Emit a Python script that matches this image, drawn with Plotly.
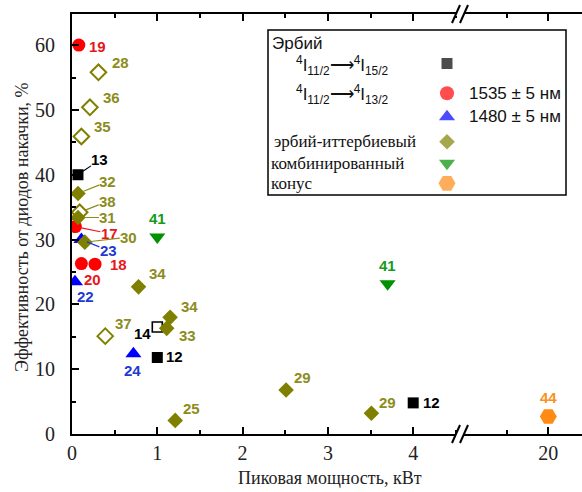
import plotly.graph_objects as go

# ---------------- data ----------------
# Erbium 4I11/2 -> 4I15/2 (filled squares)
er15_x = [0.07, 1.0, 4.0]
er15_y = [40.0, 11.8, 4.8]
er15_ref = ["13", "12", "12"]
# Erbium 4I11/2 -> 4I15/2 (open square)
er15o_x = [1.0]
er15o_y = [16.5]
er15o_ref = ["14"]
# Erbium 4I11/2 -> 4I13/2, 1535 nm (circles)
c1535_x = [0.08, 0.04, 0.11, 0.27]
c1535_y = [60.0, 32.0, 26.3, 26.2]
c1535_ref = ["19", "17", "20", "18"]
# Erbium 4I11/2 -> 4I13/2, 1480 nm (triangles)
t1480_x = [0.11, 0.035, 0.72]
t1480_y = [30.0, 23.5, 12.4]
t1480_ref = ["23", "22", "24"]
# Erbium-ytterbium (filled diamonds)
eryb_x = [0.07, 0.07, 0.15, 0.78, 1.15, 1.11, 1.21, 2.51, 3.51]
eryb_y = [37.1, 33.4, 29.6, 22.7, 18.0, 16.3, 2.1, 6.8, 3.2]
eryb_ref = ["32", "31", "30", "34", "34", "33", "25", "29", "29"]
# Erbium-ytterbium (open diamonds)
erybo_x = [0.31, 0.21, 0.11, 0.09, 0.39]
erybo_y = [55.8, 50.4, 45.9, 34.2, 15.1]
erybo_ref = ["28", "36", "35", "38", "37"]
# Combined (triangles down)
comb_x = [1.0, 3.7]
comb_y = [30.4, 23.2]
comb_ref = ["41", "41"]
# Cone (hexagon), after the axis break
cone_x = [20]
cone_y = [2.7]
cone_ref = ["44"]

x1_ticks = [0, 1, 2, 3, 4]
x1_minor = [0.5, 1.5, 2.5, 3.5, 4.5]
x2_ticks = [20]
x2_minor = [19.5]
y_ticks = [0, 10, 20, 30, 40, 50, 60]
y_minor = [5, 15, 25, 35, 45, 55]

# ---------------- layout geometry ----------------
W, H = 582, 492
ML, MR, MT, MB = 72, 0, 14, 58
PW = W - ML - MR
PH = H - MT - MB


def pxp(xp):
    return (xp - ML) / PW


def pyp(yp):
    return (H - MB - yp) / PH


BREAK = 460
dsplit = pxp(BREAK)
XS1 = 85.3
XS2 = 83.3
x1max = (BREAK - ML) / XS1
x2min = 20 - (548.3 - BREAK) / XS2
x2max = 20 + (W - 548.3) / XS2
YMAX = 64.8

SANS = "Liberation Sans, Arial, sans-serif"
SERIF = "Liberation Serif, Times New Roman, serif"

RED, RED_L = "#ff0000", "#e8161c"
BLUE, BLUE_L = "#0000ff", "#1f3ad0"
OLIVE, OLIVE_L = "#808000", "#8c8c1c"
GREEN, GREEN_L = "#009000", "#17991a"
ORANGE, ORANGE_L = "#ff8a14", "#f7921e"

# label offsets in pixels (dx, dy screen-down, leader line?)
series = [
    dict(x=er15_x, y=er15_y, refs=er15_ref, xa="x", sym="square", size=11,
         color="black", lab="black", lw=0,
         offs=[(22, -15, True), (17, -1, False), (18, 0, False)]),
    dict(x=er15o_x, y=er15o_y, refs=er15o_ref, xa="x", sym="square-open", size=10,
         color="black", lab="black", lw=1.6,
         offs=[(-15, 6, False)]),
    dict(x=c1535_x, y=c1535_y, refs=c1535_ref, xa="x", sym="circle", size=13,
         color=RED, lab=RED_L, lw=0,
         offs=[(19, 1, False), (34, 7, True), (11, 16, False), (23, 0, False)]),
    dict(x=t1480_x, y=t1480_y, refs=t1480_ref, xa="x", sym="triangle-up", size=14,
         color=BLUE, lab=BLUE_L, lw=0,
         offs=[(27, 11, True), (11, 15, False), (-1, 17, False)]),
    dict(x=eryb_x, y=eryb_y, refs=eryb_ref, xa="x", sym="diamond", size=12,
         color=OLIVE, lab=OLIVE_L, lw=0,
         offs=[(30, -12, True), (30, 0, True), (44, -5, True), (19, -13, False),
               (19, -11, False), (21, 7, False), (16, -12, False), (16, -12, False),
               (16, -11, False)]),
    dict(x=erybo_x, y=erybo_y, refs=erybo_ref, xa="x", sym="diamond-open", size=12,
         color=OLIVE, lab=OLIVE_L, lw=2,
         offs=[(22, -10, False), (22, -10, False), (21, -10, False), (28, -11, True),
               (18, -13, False)]),
    dict(x=comb_x, y=comb_y, refs=comb_ref, xa="x", sym="triangle-down", size=14,
         color=GREEN, lab=GREEN_L, lw=0,
         offs=[(0, -18, False), (0, -18, False)]),
    dict(x=cone_x, y=cone_y, refs=cone_ref, xa="x2", sym="hexagon2", size=17,
         color=ORANGE, lab=ORANGE_L, lw=0,
         offs=[(0, -19, False)]),
]

fig = go.Figure()
annotations = []
for s in series:
    marker = dict(symbol=s["sym"], size=s["size"], color=s["color"])
    if s["lw"]:
        marker["line"] = dict(width=s["lw"], color=s["color"])
    else:
        marker["line"] = dict(width=0)
    fig.add_trace(go.Scatter(x=s["x"], y=s["y"], mode="markers", marker=marker,
                             xaxis=s["xa"], yaxis="y", showlegend=False,
                             hoverinfo="skip"))
    for xi, yi, r, (dx, dy, lead) in zip(s["x"], s["y"], s["refs"], s["offs"]):
        a = dict(x=xi, y=yi, xref=s["xa"], yref="y", text="<b>" + r + "</b>",
                 font=dict(family=SANS, size=15, color=s["lab"]))
        if lead:
            a.update(showarrow=True, arrowhead=0, arrowwidth=1.2,
                     arrowcolor=s["lab"], ax=dx, ay=dy, standoff=6, borderpad=0)
        else:
            a.update(showarrow=False, xshift=dx, yshift=-dy,
                     xanchor="center", yanchor="middle")
        annotations.append(a)

# ---------------- custom legend ----------------
leg_sym = ["square", "circle", "triangle-up", "diamond", "triangle-down", "hexagon2"]
leg_col = ["black", RED, BLUE, OLIVE, GREEN, ORANGE]
leg_size = [11, 14, 14, 12, 14, 17]
leg_py = [63.5, 93.3, 116.7, 141.7, 163.3, 183.3]
fig.add_trace(go.Scatter(
    x=[pxp(447)] * len(leg_sym), y=[pyp(v) for v in leg_py], mode="markers",
    marker=dict(symbol=leg_sym, color=leg_col, size=leg_size, line=dict(width=0)),
    xaxis="x3", yaxis="y3", showlegend=False, hoverinfo="skip", cliponaxis=False))

leg_texts = [
    ("Эрбий", 270, 43.5, SANS, 17),
    ("<sup>4</sup>I<sub>11/2</sub>⟶<sup>4</sup>I<sub>15/2</sub>", 294, 65, SANS, 17),
    ("<sup>4</sup>I<sub>11/2</sub>⟶<sup>4</sup>I<sub>13/2</sub>", 294, 94, SANS, 17),
    ("1535 ± 5 нм", 467, 93.3, SANS, 17),
    ("1480 ± 5 нм", 467, 116.7, SANS, 17),
    ("эрбий-иттербиевый", 272, 141.7, SERIF, 17),
    ("комбинированный", 269, 163.3, SERIF, 17),
    ("конус", 269, 183.3, SERIF, 17),
]
for t, xp, yp, fam, fs in leg_texts:
    annotations.append(dict(x=pxp(xp), y=pyp(yp), xref="paper", yref="paper",
                            text=t, showarrow=False, xanchor="left", yanchor="middle",
                            font=dict(family=fam, size=fs, color="#111")))

# axis titles
annotations.append(dict(x=pxp(330), y=pyp(478), xref="paper", yref="paper",
                        text="Пиковая мощность, кВт", showarrow=False,
                        xanchor="center", yanchor="middle",
                        font=dict(family=SERIF, size=18, color="#222")))
annotations.append(dict(x=pxp(22), y=pyp(227), xref="paper", yref="paper",
                        text="Эффективность от диодов накачки, %", showarrow=False,
                        textangle=-90, xanchor="center", yanchor="middle",
                        font=dict(family=SERIF, size=18, color="#222")))

shapes = [
    dict(type="rect", xref="paper", yref="paper", x0=pxp(268), x1=pxp(566),
         y0=pyp(195), y1=pyp(30), line=dict(color="black", width=1.5),
         fillcolor="rgba(0,0,0,0)", layer="above"),
]
# axis break marks (bottom and top)
for yb in (434, 14):
    shapes.append(dict(type="line", xref="paper", yref="paper",
                       x0=pxp(BREAK - 4), x1=pxp(BREAK + 4), y0=pyp(yb), y1=pyp(yb),
                       line=dict(color="white", width=4), layer="above"))
    for c in (BREAK - 4, BREAK + 4):
        shapes.append(dict(type="line", xref="paper", yref="paper",
                           x0=pxp(c - 4), x1=pxp(c + 4), y0=pyp(yb + 9), y1=pyp(yb - 9),
                           line=dict(color="black", width=2), layer="above"))

axis_common = dict(showline=True, linewidth=2, linecolor="black", ticks="inside",
                   ticklen=7, tickwidth=2, tickcolor="black", showgrid=False,
                   zeroline=False,
                   tickfont=dict(family=SERIF, size=20, color="#222"))

fig.update_layout(
    width=W, height=H,
    margin=dict(l=ML, r=MR, t=MT, b=MB),
    paper_bgcolor="white", plot_bgcolor="rgba(0,0,0,0)",
    xaxis=dict(domain=[0, dsplit], range=[0, x1max], tickvals=x1_ticks,
               minor=dict(tickvals=x1_minor, ticks="inside", ticklen=4,
                          tickwidth=2, tickcolor="black"),
               anchor="y", ticklabelstandoff=0, mirror="ticks", **axis_common),
    xaxis2=dict(domain=[dsplit, 1], range=[x2min, x2max], tickvals=x2_ticks,
                minor=dict(tickvals=x2_minor, ticks="inside", ticklen=4,
                           tickwidth=2, tickcolor="black"),
                anchor="y", ticklabelstandoff=0, mirror="ticks", **axis_common),
    yaxis=dict(domain=[0, 1], range=[0, YMAX], tickvals=y_ticks,
               minor=dict(tickvals=y_minor, ticks="inside", ticklen=4,
                          tickwidth=2, tickcolor="black"),
               anchor="x", ticklabelstandoff=11, **axis_common),
    xaxis3=dict(domain=[0, 1], range=[0, 1], visible=False, anchor="y3"),
    yaxis3=dict(domain=[0, 1], range=[0, 1], visible=False, anchor="x3"),
    annotations=annotations,
    shapes=shapes,
)

fig.write_html("out.html", config={"displayModeBar": False},
               post_script="document.body.style.margin='0';")
